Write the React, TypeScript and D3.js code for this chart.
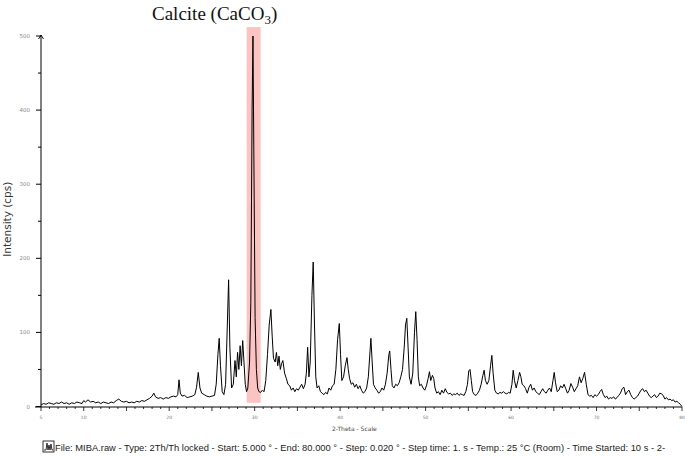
import { scaleLinear, line, range } from "d3";

// 2-theta (deg) / intensity (cps) pairs
const scan: [number, number][] = [
  [5.0, 2], [5.3, 4], [5.6, 3], [5.9, 5], [6.2, 4], [6.5, 3], [6.8, 5], [7.1, 4], [7.4, 6], [7.7, 4],
  [8.0, 5], [8.3, 3], [8.6, 5], [8.9, 4], [9.2, 6], [9.5, 5], [9.8, 4], [10.0, 8], [10.2, 6], [10.5, 9],
  [10.8, 6], [11.1, 7], [11.4, 5], [11.7, 6], [12.0, 4], [12.3, 6], [12.6, 5], [12.9, 4], [13.2, 6], [13.5, 5],
  [13.8, 8], [14.1, 10], [14.4, 7], [14.7, 6], [15.0, 7], [15.3, 5], [15.6, 6], [15.9, 5], [16.2, 7], [16.5, 6],
  [16.8, 8], [17.1, 7], [17.4, 9], [17.7, 11], [18.0, 14], [18.2, 18], [18.4, 13], [18.7, 11], [19.0, 12], [19.3, 10],
  [19.6, 12], [19.9, 11], [20.2, 13], [20.5, 14], [20.8, 13], [21.0, 16], [21.15, 36], [21.3, 18], [21.5, 14], [21.8, 15],
  [22.1, 12], [22.4, 13], [22.7, 14], [23.0, 16], [23.2, 26], [23.4, 46], [23.6, 25], [23.8, 18], [24.1, 16], [24.4, 14],
  [24.7, 13], [25.0, 14], [25.3, 15], [25.5, 30], [25.7, 70], [25.85, 92], [26.0, 55], [26.2, 20], [26.4, 16], [26.6, 30],
  [26.8, 110], [26.95, 171], [27.1, 80], [27.3, 25], [27.5, 30], [27.7, 62], [27.85, 40], [28.0, 73], [28.15, 50], [28.3, 82],
  [28.45, 55], [28.6, 89], [28.75, 60], [28.9, 30], [29.05, 20], [29.2, 25], [29.4, 60], [29.55, 140], [29.7, 400], [29.8, 500],
  [29.9, 350], [30.05, 120], [30.2, 50], [30.35, 25], [30.5, 20], [30.7, 19], [30.9, 22], [31.1, 20], [31.3, 35], [31.5, 70],
  [31.7, 110], [31.9, 131], [32.05, 95], [32.2, 65], [32.4, 60], [32.55, 73], [32.7, 55], [32.85, 68], [33.0, 50], [33.15, 58],
  [33.3, 62], [33.5, 45], [33.7, 38], [33.9, 30], [34.1, 28], [34.3, 22], [34.5, 25], [34.7, 20], [34.9, 24], [35.1, 22],
  [35.3, 26], [35.5, 30], [35.7, 24], [35.9, 30], [36.05, 45], [36.2, 80], [36.35, 40], [36.5, 60], [36.7, 150], [36.85, 195],
  [37.0, 110], [37.15, 40], [37.3, 25], [37.5, 28], [37.7, 20], [37.9, 18], [38.1, 16], [38.3, 19], [38.5, 17], [38.7, 25],
  [38.9, 22], [39.1, 28], [39.3, 30], [39.5, 50], [39.7, 90], [39.9, 112], [40.05, 70], [40.2, 35], [40.4, 40], [40.6, 55],
  [40.8, 66], [40.95, 50], [41.1, 38], [41.3, 30], [41.5, 32], [41.7, 26], [41.9, 30], [42.1, 24], [42.3, 28], [42.5, 22],
  [42.7, 18], [42.9, 20], [43.1, 25], [43.3, 40], [43.5, 75], [43.6, 92], [43.75, 60], [43.9, 30], [44.1, 25], [44.3, 22],
  [44.5, 18], [44.7, 20], [44.9, 25], [45.1, 22], [45.3, 30], [45.5, 45], [45.7, 70], [45.8, 75], [45.95, 50], [46.1, 28],
  [46.3, 25], [46.5, 30], [46.7, 28], [46.9, 32], [47.1, 40], [47.3, 50], [47.5, 80], [47.65, 110], [47.8, 119], [47.95, 80],
  [48.1, 40], [48.3, 30], [48.5, 45], [48.7, 100], [48.85, 128], [49.0, 90], [49.15, 40], [49.3, 28], [49.5, 30], [49.7, 25],
  [49.9, 22], [50.1, 28], [50.3, 38], [50.45, 47], [50.6, 35], [50.8, 42], [50.95, 38], [51.1, 25], [51.3, 18], [51.5, 20],
  [51.7, 16], [51.9, 22], [52.1, 18], [52.3, 24], [52.5, 19], [52.7, 17], [52.9, 18], [53.1, 15], [53.3, 17], [53.5, 16],
  [53.7, 18], [53.9, 15], [54.1, 17], [54.3, 16], [54.5, 15], [54.7, 20], [54.9, 30], [55.05, 48], [55.2, 50], [55.35, 35],
  [55.5, 20], [55.7, 16], [55.9, 15], [56.1, 18], [56.3, 22], [56.5, 30], [56.7, 42], [56.85, 49], [57.0, 35], [57.2, 30],
  [57.4, 35], [57.6, 55], [57.75, 69], [57.9, 45], [58.1, 22], [58.3, 18], [58.5, 17], [58.7, 19], [58.9, 18], [59.1, 20],
  [59.3, 18], [59.5, 17], [59.7, 19], [59.9, 18], [60.1, 30], [60.25, 49], [60.4, 35], [60.6, 25], [60.8, 35], [61.0, 46],
  [61.15, 40], [61.3, 30], [61.5, 28], [61.7, 24], [61.9, 18], [62.1, 26], [62.3, 30], [62.5, 22], [62.7, 25], [62.9, 20],
  [63.1, 18], [63.3, 16], [63.5, 20], [63.7, 24], [63.9, 20], [64.1, 18], [64.3, 22], [64.5, 25], [64.7, 20], [64.9, 35],
  [65.05, 46], [65.2, 32], [65.4, 20], [65.6, 22], [65.8, 28], [66.0, 25], [66.2, 30], [66.4, 24], [66.6, 18], [66.8, 22],
  [67.0, 31], [67.2, 26], [67.4, 20], [67.6, 24], [67.8, 28], [68.0, 40], [68.2, 32], [68.4, 38], [68.6, 46], [68.8, 30],
  [69.0, 16], [69.2, 14], [69.4, 15], [69.6, 12], [69.8, 16], [70.0, 14], [70.2, 16], [70.4, 20], [70.6, 23], [70.8, 16],
  [71.0, 12], [71.2, 14], [71.4, 10], [71.6, 12], [71.8, 11], [72.0, 13], [72.2, 10], [72.4, 12], [72.6, 15], [72.8, 18],
  [73.0, 24], [73.2, 26], [73.4, 16], [73.6, 20], [73.8, 22], [74.0, 16], [74.2, 12], [74.4, 10], [74.6, 12], [74.8, 14],
  [75.0, 18], [75.2, 22], [75.4, 24], [75.6, 20], [75.8, 22], [76.0, 18], [76.2, 14], [76.4, 12], [76.6, 14], [76.8, 16],
  [77.0, 12], [77.2, 14], [77.4, 18], [77.6, 17], [77.8, 15], [78.0, 10], [78.2, 12], [78.4, 9], [78.6, 10], [78.8, 8],
  [79.0, 9], [79.2, 6], [79.4, 7], [79.6, 5], [79.8, 3], [80.0, 0],
];

const xLabels = [5, 10, 20, 30, 40, 50, 60, 70, 80];
const yLabels = [0, 100, 200, 300, 400, 500];
const highlight = { from: 29.06, to: 30.7, top: 512, bottom: 5 };

const title = "Calcite (CaCO";
const footer =
  "File: MIBA.raw - Type: 2Th/Th locked - Start: 5.000 ° - End: 80.000 ° - Step: 0.020 ° - Step time: 1. s - Temp.: 25 °C (Room) - Time Started: 10 s - 2-";

const W = 685, H = 457;

export default function App() {
  const x = scaleLinear().domain([5, 80]).range([41, 682]);
  const y = scaleLinear().domain([0, 500]).range([406.5, 36]);
  const path = line<[number, number]>()
    .x((d) => x(d[0]))
    .y((d) => y(d[1]))(scan);

  const x0 = x(5), yb = y(0) + 0.5;
  const minorX = range(5, 81, 1);
  const minorY = range(0, 501, 50);

  return (
    <svg width={W} height={H} style={{ position: "absolute", left: 0, top: 0, background: "#fff" }}>
      <rect
        x={x(highlight.from)}
        width={x(highlight.to) - x(highlight.from)}
        y={y(highlight.top)}
        height={y(highlight.bottom) - y(highlight.top)}
        fill="#fcc3c3"
      />
      <text x={152} y={20} fontFamily="'Liberation Serif', 'Times New Roman', serif" fontSize={19} fill="#111">
        {title}
        <tspan fontSize={13} dy={4}>3</tspan>
        <tspan dy={-4}>)</tspan>
      </text>

      {/* y axis */}
      <line x1={x0} x2={x0} y1={yb} y2={y(500) - 1} stroke="#000" strokeWidth={1} />
      <path d={`M${x0 - 2.5},${y(500) + 3} L${x0},${y(500) - 1} L${x0 + 2.5},${y(500) + 3}`} fill="none" stroke="#000" strokeWidth={0.9} />
      {minorY.map((v) => (
        <line key={"yt" + v} x1={x0 - (v % 100 === 0 ? 5 : 3)} x2={x0} y1={y(v)} y2={y(v)} stroke="#000" strokeWidth={1} />
      ))}
      {yLabels.map((v) => (
        <text key={"yl" + v} x={30} y={y(v) + 2} textAnchor="end" fontFamily="'DejaVu Sans', sans-serif" fontSize={5.5} fill="#888">
          {v}
        </text>
      ))}
      <text
        transform={`translate(11,${y(250) - 2}) rotate(-90)`}
        textAnchor="middle"
        fontFamily="'DejaVu Sans', sans-serif"
        fontSize={10.5}
        fill="#333"
      >
        Intensity (cps)
      </text>

      {/* x axis */}
      <line x1={x0 - 6} x2={x(80)} y1={yb} y2={yb} stroke="#000" strokeWidth={1} />
      {minorX.map((v) => (
        <line key={"xt" + v} x1={x(v)} x2={x(v)} y1={yb} y2={yb + (v % 5 === 0 ? 4 : 2)} stroke="#000" strokeWidth={0.8} />
      ))}
      {xLabels.map((v) => (
        <text key={"xl" + v} x={x(v)} y={419} textAnchor="middle" fontFamily="'DejaVu Sans', sans-serif" fontSize={4.5} fill="#777">
          {v}
        </text>
      ))}
      <text x={332} y={431} fontFamily="'DejaVu Sans', sans-serif" fontSize={6} fill="#444">
        2-Theta - Scale
      </text>

      <path d={path ?? ""} fill="none" stroke="#000" strokeWidth={1} strokeLinejoin="round" />

      {/* footer */}
      <g transform="translate(43,441)">
        <rect x={0} y={0} width={11} height={11} fill="none" stroke="#000" strokeWidth={0.8} />
        <path d="M1,9 L3,9 L4,2 L5,9 L6,4 L7,9 L8,3 L9,9 L10,9" fill="none" stroke="#000" strokeWidth={0.8} />
      </g>
      <text x={55} y={451} fontFamily="'Liberation Sans', Arial, sans-serif" fontSize={9.5} fill="#222" textLength={610} lengthAdjust="spacingAndGlyphs">
        {footer}
      </text>
    </svg>
  );
}
